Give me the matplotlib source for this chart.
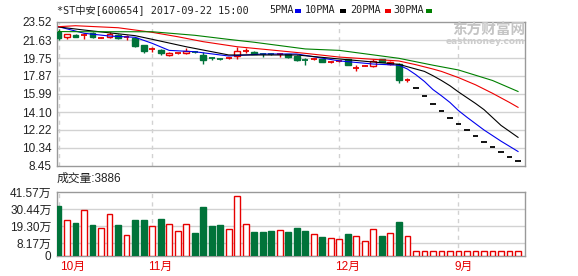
import matplotlib
matplotlib.use('Agg')
from matplotlib import pyplot as plt
from matplotlib import transforms
from matplotlib.patches import Rectangle

# daily candles, index 0 = first day shown
opens = [22.50, 21.92, 22.16, 22.14, 22.34, 21.86, 21.92, 22.16, 21.90, 21.81,
         21.11, 20.64, 20.59, 20.03, 20.22, 20.24, 20.43, 20.07, 19.74, 19.67,
         19.70, 19.99, 20.46, 20.41, 20.16, 20.19, 20.12, 20.14, 19.99, 19.56,
         19.59, 19.61, 19.30, 19.41, 19.61, 18.72, 18.93, 18.95, 19.61, 19.12,
         19.12, 17.43, 16.58, 15.75, 14.96, 14.21, 13.50, 12.83, 12.19, 11.58,
         11.00, 10.45, 9.93, 9.43, 8.96]
closes = [21.85, 22.23, 21.98, 22.16, 21.98, 21.88, 22.27, 21.81, 21.92, 21.01,
          20.52, 20.66, 20.24, 20.24, 20.24, 20.52, 20.41, 19.54, 19.72, 19.65,
          19.72, 20.48, 20.48, 20.20, 20.14, 20.17, 20.14, 19.82, 19.54, 19.54,
          19.61, 19.36, 19.32, 19.43, 19.02, 18.74, 18.95, 19.47, 19.33, 19.33,
          17.45, 17.45, 16.58, 15.75, 14.96, 14.21, 13.50, 12.83, 12.19, 11.58,
          11.00, 10.45, 9.93, 9.43, 8.96]
highs = [22.76, 22.23, 22.30, 22.40, 22.45, 21.95, 22.50, 22.30, 22.16, 21.92,
         21.11, 20.87, 20.66, 20.41, 20.30, 20.77, 20.52, 20.35, 19.89, 19.75,
         19.82, 20.87, 20.77, 20.45, 20.30, 20.30, 20.30, 20.20, 20.07, 19.72,
         19.72, 19.65, 19.40, 19.50, 19.65, 19.02, 19.02, 19.61, 19.65, 19.40,
         19.20, 17.63, 16.58, 15.75, 14.96, 14.21, 13.50, 12.83, 12.19, 11.58,
         11.00, 10.45, 9.93, 9.43, 8.96]
lows = [21.64, 21.71, 21.90, 21.71, 21.88, 21.82, 21.81, 21.70, 21.64, 20.90,
        20.30, 20.41, 20.07, 19.96, 20.17, 20.14, 20.30, 19.12, 19.54, 19.54,
        19.60, 19.68, 20.30, 20.14, 19.89, 20.07, 19.89, 19.75, 19.48, 19.02,
        19.50, 19.30, 19.22, 19.35, 18.98, 18.42, 18.88, 18.84, 19.30, 19.05,
        17.17, 17.27, 16.58, 15.75, 14.96, 14.21, 13.50, 12.83, 12.19, 11.58,
        11.00, 10.45, 9.93, 9.43, 8.96]

# volume in 万
volume = [32.3, 23.7, 21.3, 30.2, 20.0, 17.9, 27.2, 20.0, 13.4, 23.3,
          23.3, 19.2, 23.9, 20.5, 16.0, 20.5, 15.1, 31.7, 19.4, 20.0,
          17.3, 38.8, 20.7, 15.5, 15.5, 16.2, 16.6, 15.5, 17.9, 16.2,
          14.2, 12.3, 11.4, 11.0, 14.2, 12.7, 9.5, 17.3, 12.9, 14.9,
          22.0, 12.9, 3.0, 3.0, 3.0, 3.0, 3.0, 3.0, 3.0, 3.0,
          3.0, 3.0, 3.0, 3.0, 3.0]

# moving averages (index, value)
ma5_x = [0, 3, 6, 9, 11, 13, 16, 20, 24, 28, 33, 37, 40, 41, 42, 43, 44, 45,
         46, 47, 48, 50, 52, 54]
ma5_y = [23.03, 22.34, 22.05, 21.92, 21.29, 20.55, 20.41, 19.96, 20.17, 20.17,
         19.45, 19.12, 19.00, 18.60, 18.00, 17.30, 16.45, 15.80, 15.10, 14.25,
         13.55, 12.22, 11.05, 9.97]
ma10_x = [0, 3, 9, 11, 15, 20, 28, 33, 40, 41, 43, 44, 45, 46, 47, 49, 50,
          52, 54]
ma10_y = [23.00, 22.68, 22.09, 21.71, 20.93, 20.07, 20.07, 19.65, 19.09, 18.84,
          18.35, 17.90, 17.40, 16.85, 16.20, 15.00, 14.35, 12.70, 11.45]
ma20_x = [0, 2, 7, 11, 14, 17, 21, 25, 29, 33, 40, 42, 44, 45, 47, 49, 51,
          53, 54]
ma20_y = [23.03, 23.13, 22.92, 22.44, 21.98, 21.46, 20.93, 20.59, 20.24, 19.85,
          19.44, 19.05, 18.60, 18.35, 17.70, 16.95, 16.06, 15.10, 14.59]
ma30_x = [0, 3, 11, 16, 20, 23, 29, 33, 40, 44, 47, 49, 51, 54]
ma30_y = [22.52, 22.50, 22.50, 22.13, 21.70, 21.40, 20.70, 20.55, 19.72, 19.00,
          18.50, 17.95, 17.40, 16.25]

price_ticks = [8.45, 10.34, 12.22, 14.10, 15.99, 17.87, 19.75, 21.63, 23.52]
vol_ticks = [0, 8.17, 19.30, 30.44, 41.57]
vol_labels = ['0', '8.17万', '19.30万', '30.44万', '41.57万']
month_pos = [0, 11, 33, 47]
month_labels = ['10月', '11月', '12月', '9月']

RED = '#e60000'
GREEN = '#00733a'
GRID = '#d2d2d2'
EDGE = '#999999'
TXT = '#222222'
num_font = ['Liberation Sans', 'Noto Sans CJK SC']
mono_font = ['DejaVu Sans Mono', 'Noto Sans CJK SC']

W, H = 578, 276
fig = plt.figure(figsize=(W / 100, H / 100), dpi=100)
fig.patch.set_facecolor('white')


def box(l, t, r, b):
    return [l / W, 1 - b / H, (r - l) / W, (b - t) / H]


ax = fig.add_axes(box(57, 22, 525, 166))
axv = fig.add_axes(box(57, 192, 525, 256))

n = len(closes)
xlim = (-0.18, n - 1 + 0.82)
bw = 0.68

for a in (ax, axv):
    a.set_xlim(*xlim)
    for s in a.spines.values():
        s.set_color(EDGE)
        s.set_linewidth(1)
    a.set_xticks([])
    a.tick_params(axis='y', length=0, pad=4, labelsize=8.5, labelcolor=TXT)
    for m in month_pos:
        a.axvline(m, color=GRID, lw=1, ls=(0, (3, 3)), zorder=0)

# price panel
ax.set_ylim(price_ticks[0], price_ticks[-1])
ax.set_yticks(price_ticks)
ax.set_yticklabels(['%.2f' % v for v in price_ticks], family=num_font)
for v in price_ticks[1:-1]:
    ax.axhline(v, color=GRID, lw=1, zorder=0)

for i in range(n):
    o, c, h, l = opens[i], closes[i], highs[i], lows[i]
    if h == l:
        ax.hlines(c, i - bw / 2, i + bw / 2, color='black', lw=1.3, zorder=3)
        continue
    col = RED if c >= o else GREEN
    ax.vlines(i, l, h, color=col, lw=1, zorder=2)
    if abs(c - o) < 0.04:
        ax.hlines(c, i - bw / 2, i + bw / 2, color=col, lw=1.3, zorder=3)
    else:
        fc = 'white' if c >= o else GREEN
        ax.bar(i, abs(c - o), bottom=min(o, c), width=bw, facecolor=fc,
               edgecolor=col, lw=1, zorder=3)

ax.plot(ma5_x, ma5_y, color='#0000ee', lw=0.8, zorder=4)
ax.plot(ma10_x, ma10_y, color='black', lw=0.8, zorder=4)
ax.plot(ma20_x, ma20_y, color='#ee0000', lw=0.8, zorder=4)
ax.plot(ma30_x, ma30_y, color='#008000', lw=0.8, zorder=4)

# volume panel
axv.set_ylim(0, vol_ticks[-1])
axv.set_yticks(vol_ticks)
axv.set_yticklabels(vol_labels, family=num_font)
for v in vol_ticks[1:-1]:
    axv.axhline(v, color=GRID, lw=1, zorder=0)
for i in range(n):
    up = closes[i] >= opens[i]
    axv.bar(i, volume[i], width=bw, facecolor='white' if up else GREEN,
            edgecolor=RED if up else GREEN, lw=1, zorder=3)

trans = transforms.blended_transform_factory(axv.transData, fig.transFigure)
for m, lab in zip(month_pos, month_labels):
    axv.text(max(m - 0.5, 0.2), 1 - 267 / H, lab, transform=trans, ha='left',
             va='center', color=RED, fontsize=8.5, family=num_font)

# header line
fig.text(57 / W, 1 - 10 / H, '*ST中安[600654] 2017-09-22 15:00', fontsize=7.3,
         family=mono_font, color=TXT, va='center', ha='left')
legend = [('5PMA', 269, 295, '#0000ee'), ('10PMA', 305, 340, 'black'),
          ('20PMA', 350, 385, '#ee0000'), ('30PMA', 393, 426, '#008000')]
for name, tx, rx, col in legend:
    fig.text(tx / W, 1 - 10 / H, name, fontsize=7.3, family=mono_font,
             color=TXT, va='center', ha='left')
    fig.add_artist(Rectangle((rx / W, 1 - 12.5 / H), 6 / W, 3 / H,
                             transform=fig.transFigure, color=col, lw=0))

fig.text(57 / W, 1 - 179 / H, '成交量:3886', fontsize=8.5, family=num_font,
         color=TXT, va='center', ha='left')

# watermark
fig.text(525 / W, 1 - 29.5 / H, '东方财富网', fontsize=10.5, weight='bold',
         family=['Noto Sans CJK SC'], color='#c4c4c4', ha='right', va='center')
fig.text(525 / W, 1 - 42 / H, 'eastmoney.com', fontsize=6.5, weight='bold',
         family=['DejaVu Sans'], color='#cccccc', ha='right', va='center')

fig.savefig('out.png', dpi=100, facecolor='white')
